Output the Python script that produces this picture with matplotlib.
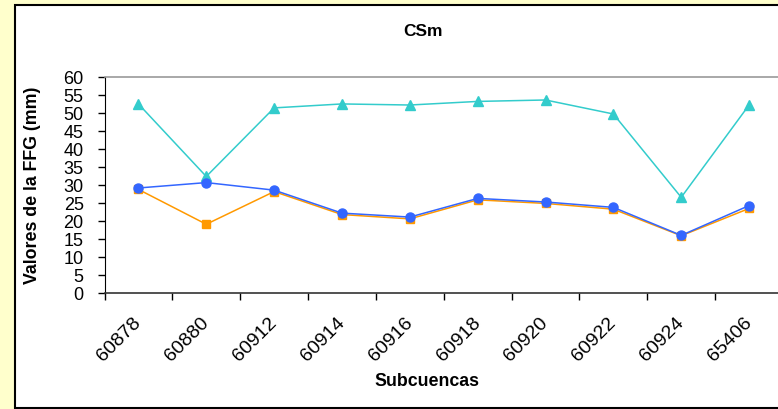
import matplotlib
matplotlib.use("Agg")
import matplotlib.pyplot as plt
from matplotlib.patches import Rectangle
from matplotlib.transforms import ScaledTranslation

plt.rcParams['font.family'] = ['Liberation Sans', 'DejaVu Sans']

categories = ["60878", "60880", "60912", "60914", "60916", "60918", "60920", "60922", "60924", "65406"]
serie_cyan = [52.5, 32.3, 51.4, 52.5, 52.2, 53.2, 53.6, 49.7, 26.5, 52.2]
serie_orange = [28.7, 19.0, 28.1, 21.7, 20.5, 25.8, 24.8, 23.2, 15.8, 23.4]
serie_blue = [29.1, 30.6, 28.5, 22.1, 21.0, 26.2, 25.2, 23.7, 15.9, 24.2]
y_ticks = list(range(0, 61, 5))

W, H = 778, 410
fig = plt.figure(figsize=(W / 100, H / 100), dpi=100)
fig.patch.set_facecolor('#FFFFCC')

# white panel with border
panel = Rectangle((15 / W, 1 - 409 / H), 800 / W, (409 - 6) / H,
                  transform=fig.transFigure, facecolor='white',
                  edgecolor='black', linewidth=1.5, zorder=-5)
fig.patches.append(panel)

left, right, top, bottom = 104.5, 783, 78, 293.5
ax = fig.add_axes([left / W, 1 - bottom / H, (right - left) / W, (bottom - top) / H])
ax.set_zorder(2)
ax.set_facecolor('white')

x = list(range(len(categories)))
ax.plot(x, serie_cyan, color='#33CCCC', marker='^', markersize=7, linewidth=1.1, zorder=3)
ax.plot(x, serie_orange, color='#FF9900', marker='s', markersize=6, linewidth=1.1, zorder=4)
ax.plot(x, serie_blue, color='#3366FF', marker='o', markersize=6.5, linewidth=1.1, zorder=5)

ax.set_xlim(-0.5, len(categories) - 0.5)
ax.set_ylim(0, 60)
ax.set_yticks(y_ticks)
ax.set_yticklabels([str(v) for v in y_ticks], fontsize=13)

# tick marks between categories
ax.set_xticks([i + 0.5 for i in range(-1, len(categories))])
ax.set_xticklabels([])
ax.tick_params(axis='x', length=5, direction='out', width=1)
ax.tick_params(axis='y', length=5, direction='out', width=1, pad=10)

# category labels, rotated, centred on each category
lab_trans = ax.get_xaxis_transform() + ScaledTranslation(-6 / 100, -21 / 100, fig.dpi_scale_trans)
for i, cat in enumerate(categories):
    ax.text(i, 0, cat, transform=lab_trans, rotation=45, ha='right', va='top',
            rotation_mode='anchor', fontsize=14, clip_on=False)

ax.spines['right'].set_visible(False)
ax.spines['top'].set_color('#999999')
ax.spines['top'].set_linewidth(1.2)
ax.spines['left'].set_color('black')
ax.spines['bottom'].set_color('#333333')
ax.spines['bottom'].set_linewidth(1.2)

fig.text(423 / W, 1 - 31 / H, 'CSm', fontsize=12.5, fontweight='bold', ha='center', va='center')
fig.text(33 / W, 1 - 185 / H, 'Valores de la FFG (mm)', fontsize=12.8, fontweight='bold',
         ha='center', va='center', rotation=90)
fig.text(427 / W, 1 - 382 / H, 'Subcuencas', fontsize=12.8, fontweight='bold', ha='center', va='center')

fig.savefig('out.png', dpi=100, facecolor=fig.get_facecolor())
